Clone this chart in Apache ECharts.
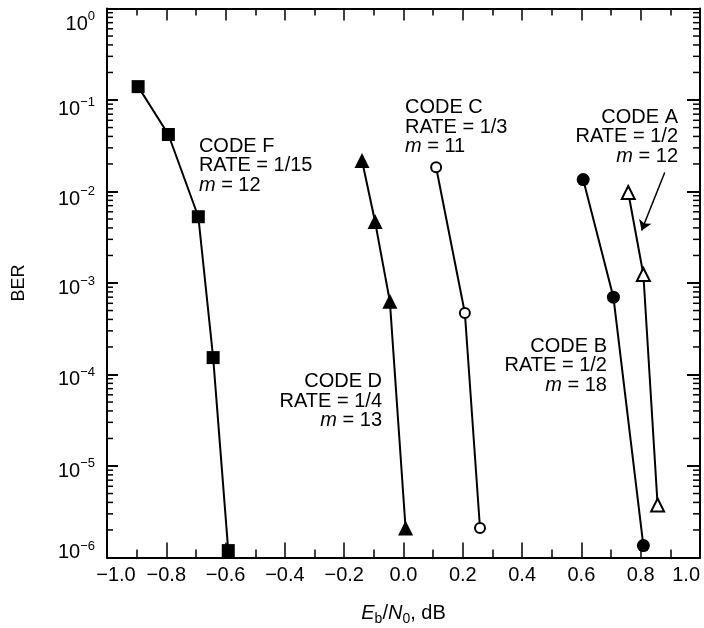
<!DOCTYPE html>
<html>
<head>
<meta charset="utf-8">
<script src="https://cdn.jsdelivr.net/npm/echarts@6/dist/echarts.min.js"></script>
<style>
html,body{margin:0;padding:0;background:#fff;}
#chart{width:704px;height:628px;}
</style>
</head>
<body>
<div id="chart"></div>
<script>
// BER curves
var codeF_x = [-0.895, -0.793, -0.692, -0.642, -0.591];
var codeF_ber = [0.14, 0.042, 0.0053, 1.53e-4, 1.19e-6];
var codeD_x = [-0.14, -0.096, -0.046, 0.007];
var codeD_ber = [0.0218, 0.0047, 6.3e-4, 2.1e-6];
var codeC_x = [0.11, 0.207, 0.258];
var codeC_ber = [0.0184, 4.7e-4, 2.1e-6];
var codeB_x = [0.606, 0.708, 0.809];
var codeB_ber = [0.0135, 7.0e-4, 1.35e-6];
var codeA_x = [0.758, 0.809, 0.857];
var codeA_ber = [0.00975, 1.24e-3, 3.75e-6];

var codeNames = ['CODE F', 'CODE D', 'CODE C', 'CODE B', 'CODE A'];
var codeRates = ['1/15', '1/4', '1/3', '1/2', '1/2'];
var codeM = ['12', '13', '11', '18', '12'];

// where the text blocks sit (data coords of anchor)
var notePos = [[-0.69, 0.01923], [-0.0725, 5.13e-5], [0.005, 0.0507], [0.6863, 1.254e-4], [0.9258, 0.0397]];
var noteAlign = ['left', 'right', 'left', 'right', 'right'];

// arrow pointing at code A
var arrowFrom = [0.881, 0.0161];
var arrowTo = [0.803, 0.00375];

var FONT = 'Liberation Sans';

function pairs(xs, ys){
	var d = [];
	for(var i=0;i<xs.length;i++){
		d.push([xs[i], ys[i]]);
	}
	return d;
}

// minor ticks 2..9 per decade for the log axis
var minorTicks = [];
for(var e=-6;e<0;e++){
	for(var k=2;k<10;k++){
		minorTicks.push(k*Math.pow(10,e));
	}
}

function noteLabel(i){
	var al = noteAlign[i];
	var rt = {
		t: {fontFamily: FONT, fontSize: 20, lineHeight: 19.5, color: '#000', align: al},
		i: {fontFamily: FONT, fontSize: 20, lineHeight: 19.5, color: '#000', fontStyle: 'italic', align: al}
	};
	return {
		coord: notePos[i],
		symbol: 'circle',
		symbolSize: 0,
		label: {
			show: true,
			position: 'inside',
			align: al,
			verticalAlign: 'middle',
			formatter: '{t|' + codeNames[i] + '}\n{t|RATE = ' + codeRates[i] + '}\n{i|m}{t| = ' + codeM[i] + '}',
			rich: rt
		}
	};
}

function lineSeries(name, xs, ys, symbol, size, fill, idx){
	return {
		name: name,
		type: 'line',
		data: pairs(xs, ys),
		symbol: symbol,
		symbolSize: size,
		showSymbol: true,
		lineStyle: {color: '#000', width: 2},
		itemStyle: {color: fill, borderColor: '#000', borderWidth: fill == '#000' ? 0 : 2},
		emphasis: {disabled: true},
		z: 3,
		markPoint: {
			silent: true,
			data: [noteLabel(idx)]
		}
	};
}

// 10^n labels: body and superscript get the same total height,
// so padding alone decides where each sits (ob/os = offset from tick)
var labOffB = [15.5, 9.5, 7.5, 5.5, 5, 5, -5];
var labOffS = [8, 2, 0, -2, -2.5, -2.5, -11.5];
var yRich = {};
for(var n=0;n<7;n++){
	var ob = labOffB[n], os = labOffS[n];
	var H = 2*Math.max(Math.abs(ob)+10, Math.abs(os)+6.5) + 2;
	var T = H/2 + ob - 10, T2 = H/2 + os - 6.5;
	yRich['b'+n] = {fontFamily: FONT, fontSize: 20, lineHeight: 20, color: '#000', padding: [T, 0, H - 20 - T, 0]};
	yRich['s'+n] = {fontFamily: FONT, fontSize: 13, lineHeight: 13, color: '#000', padding: [T2, 0, H - 13 - T2, 0]};
}

var chart = echarts.init(document.getElementById('chart'));

var seriesA = lineSeries('CODE A', codeA_x, codeA_ber, 'triangle', 13, '#fff', 4);
seriesA.markLine = {
	silent: true,
	symbol: ['none', 'arrow'],
	symbolSize: 10,
	label: {show: false},
	lineStyle: {color: '#000', width: 1.5, type: 'solid'},
	data: [[{coord: arrowFrom}, {coord: arrowTo}]]
};

var option = {
	animation: false,
	backgroundColor: '#fff',
	grid: {left: 107, right: 4, top: 8.5, bottom: 70.5, containLabel: false, outerBoundsMode: 'none'},
	xAxis: [{
		type: 'value',
		min: -1, max: 1, interval: 0.2,
		position: 'bottom',
		axisLine: {onZero: false, lineStyle: {color: '#000', width: 2}},
		axisTick: {show: true, inside: true, length: 15, lineStyle: {color: '#000', width: 1.5}},
		minorTick: {show: true, splitNumber: 2, length: 8, lineStyle: {color: '#000', width: 1.5}},
		splitLine: {show: false},
		axisLabel: {
			margin: 8,
			fontFamily: FONT, fontSize: 20, color: '#000',
			alignMaxLabel: 'right',
			formatter: function(v){
				var s = (v < -1e-9 ? '\u2212' : '') + Math.abs(v).toFixed(1);
				if(v <= -0.999){
					return '{m|' + s + '}';
				}
				return s;
			},
			rich: {
				m: {fontFamily: FONT, fontSize: 20, color: '#000', padding: [0, 0, 0, 18]}
			}
		},
		name: '{i|E}{sb|b}{n|/}{i|N}{sb|0}{n|, dB}',
		nameLocation: 'middle',
		nameGap: 50,
		nameTextStyle: {
			rich: {
				i: {fontFamily: FONT, fontSize: 20, lineHeight: 20, fontStyle: 'italic', color: '#000', padding: [0, 0, 8, 0]},
				n: {fontFamily: FONT, fontSize: 20, lineHeight: 20, color: '#000', padding: [0, 0, 8, 0]},
				sb: {fontFamily: FONT, fontSize: 14, lineHeight: 14, color: '#000', padding: [9, 0, 5, 0]}
			}
		}
	}, {
		type: 'value',
		min: -1, max: 1, interval: 0.2,
		position: 'top',
		axisLine: {onZero: false, lineStyle: {color: '#000', width: 2}},
		axisTick: {show: true, inside: true, length: 12, lineStyle: {color: '#000', width: 1.5}},
		minorTick: {show: true, splitNumber: 2, length: 7, lineStyle: {color: '#000', width: 1.5}},
		splitLine: {show: false},
		axisLabel: {show: false}
	}],
	yAxis: [{
		type: 'log',
		logBase: 10,
		min: 1e-6, max: 1,
		splitNumber: 6,
		position: 'left',
		axisLine: {onZero: false, lineStyle: {color: '#000', width: 2}},
		axisTick: {show: true, inside: true, length: 11, lineStyle: {color: '#000', width: 2}},
		splitLine: {show: false},
		axisLabel: {
			margin: 12,
			formatter: function(v){
				var p = Math.round(Math.log(v)/Math.LN10);
				var ex = p < 0 ? '\u2212' + (-p) : '' + p;
				var key = -p;
				return '{b' + key + '|10}{s' + key + '|' + ex + '}';
			},
			rich: yRich
		},
		name: 'BER',
		nameLocation: 'middle',
		nameRotate: 90,
		nameGap: 79,
		nameTextStyle: {fontFamily: FONT, fontSize: 18, color: '#000'}
	}, {
		type: 'log',
		logBase: 10,
		min: 1e-6, max: 1,
		splitNumber: 6,
		position: 'right',
		axisLine: {onZero: false, lineStyle: {color: '#000', width: 2}},
		axisTick: {show: true, inside: true, length: 13, lineStyle: {color: '#000', width: 2}},
		splitLine: {show: false},
		axisLabel: {show: false}
	}],
	series: [
		lineSeries('CODE F', codeF_x, codeF_ber, 'rect', 13, '#000', 0),
		lineSeries('CODE D', codeD_x, codeD_ber, 'triangle', 15, '#000', 1),
		lineSeries('CODE C', codeC_x, codeC_ber, 'circle', 10, '#fff', 2),
		lineSeries('CODE B', codeB_x, codeB_ber, 'circle', 13, '#000', 3),
		seriesA,
		{
			// log minor ticks on left and right edges
			type: 'custom',
			silent: true,
			clip: false,
			z: 1,
			data: minorTicks.map(function(v){ return [-1, v]; }),
			renderItem: function(params, api){
				var v = api.value(1);
				var l = api.coord([-1, v]);
				var r = api.coord([1, v]);
				return {
					type: 'group',
					children: [
						{type: 'line', shape: {x1: l[0], y1: l[1], x2: l[0] + 6, y2: l[1]}, style: {stroke: '#000', lineWidth: 1.5}},
						{type: 'line', shape: {x1: r[0] - 7, y1: r[1], x2: r[0], y2: r[1]}, style: {stroke: '#000', lineWidth: 1.5}}
					]
				};
			}
		}
	]
};
chart.setOption(option);
</script>
</body>
</html>
